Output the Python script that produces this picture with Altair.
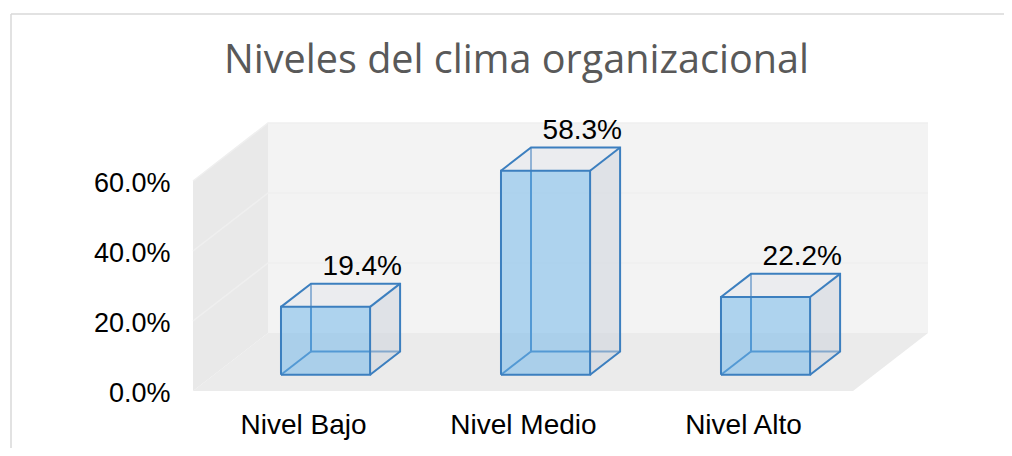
import altair as alt
import pandas as pd

titulo = "Niveles del clima organizacional"
categorias = ["Nivel Bajo", "Nivel Medio", "Nivel Alto"]
valores = [0.194, 0.583, 0.222]
ticks_y = [0.0, 0.2, 0.4, 0.6]
ticks_x = [0.5, 1.5, 2.5]

# oblique projection, in data units, of a unit of chart depth
DX = 75 / 220
DY = 58 / 350
TOP = 0.6
H = 0.2025
SHIFT = 0.007
D0, D1 = 0.28, 0.68
W, HH = 735, 268

names = "[" + ",".join(f"'{c}'" for c in categorias) + "]"
X = alt.X("x:Q", scale=alt.Scale(domain=[0, 3 + DX], nice=False, zero=False),
          axis=alt.Axis(values=ticks_x, title=None, domain=False, ticks=False, grid=False, labelFont="Liberation Sans",
                        labelFontSize=28, labelColor="#000000", labelPadding=20, labelFlush=False, labelOverlap=False,
                        labelExpr=f"{names}[floor(datum.value)]"))
Y = alt.Y("y:Q", scale=alt.Scale(domain=[0, TOP + DY], nice=False, zero=False),
          axis=alt.Axis(values=ticks_y, format=".1%", title=None, domain=False, ticks=False, grid=False, labelOffset=2,
                        labelFont="Liberation Sans", labelFontSize=27, labelColor="#000000", labelPadding=23))
N = len(categorias)


def vface(rows, color, op=1.0):
    return alt.Chart(pd.DataFrame(rows)).mark_area(color=color, opacity=op, strokeWidth=0, clip=False).encode(
        x=X, y=Y, y2="y2:Q", detail="id:N")


def hface(rows, color, op=1.0):
    return alt.Chart(pd.DataFrame(rows)).mark_area(color=color, opacity=op, orient="horizontal", strokeWidth=0).encode(
        y=Y, x=X, x2="x2:Q", detail="id:N")


def lines(rows, color, w):
    return alt.Chart(pd.DataFrame(rows)).mark_line(color=color, strokeWidth=w, strokeJoin="miter").encode(
        x=X, y=Y, detail="id:N", order="o:Q")


def path(rows, key, pts):
    for o, (cx, v, d) in enumerate(pts):
        rows.append({"id": key, "o": o, "x": cx + d * DX, "y": v + d * DY})


back = vface([{"id": 0, "x": DX, "y": DY, "y2": TOP + DY}, {"id": 0, "x": 3 + DX, "y": DY, "y2": TOP + DY}], "#f3f3f3")
left = vface([{"id": 0, "x": d * DX, "y": d * DY, "y2": TOP + d * DY} for d in (0, 1)], "#e9e9e9")
floor = hface([{"id": 0, "x": d * DX, "x2": 3 + d * DX, "y": d * DY} for d in (0, 1)], "#ebebeb")

grid_rows = []
for t in ticks_y[1:]:
    path(grid_rows, t, [(0, t, 0), (0, t, 1), (3, t, 1)])
grid = lines(grid_rows, "#efefef", 1.5)

back_edges, front_edges, side, top, front = [], [], [], [], []
for i, v in enumerate(valores):
    xl, xr = i + 0.5 + SHIFT - H, i + 0.5 + SHIFT + H
    path(back_edges, f"{i}a", [(xl, 0, D1), (xl, v, D1)])
    path(back_edges, f"{i}b", [(xl, 0, D1), (xr, 0, D1)])
    path(back_edges, f"{i}c", [(xl, 0, D0), (xl, 0, D1)])
    path(front_edges, f"{i}a", [(xl, v, D0), (xl, v, D1), (xr, v, D1), (xr, 0, D1), (xr, 0, D0)])
    path(front_edges, f"{i}b", [(xl, 0, D0), (xr, 0, D0), (xr, v, D0), (xl, v, D0), (xl, 0, D0)])
    path(front_edges, f"{i}c", [(xr, v, D0), (xr, v, D1)])
    for d in (D0, D1):
        side.append({"id": i, "x": xr + d * DX, "y": d * DY, "y2": v + d * DY})
        top.append({"id": i, "x": xl + d * DX, "x2": xr + d * DX, "y": v + d * DY})
    front.append({"id": i, "x": xl + D0 * DX, "y": D0 * DY, "y2": v + D0 * DY})
    front.append({"id": i, "x": xr + D0 * DX, "y": D0 * DY, "y2": v + D0 * DY})

EDGE = "#3c7fbf"
label_df = pd.DataFrame({
    "x": [i + 0.5 + SHIFT + 0.77 * DX for i in range(N)],
    "y": [v + D1 * DY for v in valores],
    "t": [f"{v * 100:.1f}%" for v in valores],
})
labels = alt.Chart(label_df).mark_text(font="Liberation Sans", fontSize=28, color="#000000", baseline="alphabetic", dy=-9).encode(
    x=X, y=Y, text="t:N")

frame_h = alt.Chart(pd.DataFrame({"a": [0]})).mark_rule(color="#d9d9d9", strokeWidth=1.5).encode(
    x=alt.value(-182), x2=alt.value(811), y=alt.value(-109))
frame_v = alt.Chart(pd.DataFrame({"a": [0]})).mark_rule(color="#d9d9d9", strokeWidth=1.5).encode(
    x=alt.value(-182), y=alt.value(-109), y2=alt.value(325))

chart = alt.layer(
    frame_h, frame_v, back, left, floor, grid,
    lines(back_edges, EDGE, 2),
    vface(side, "#cbd1db", 0.5),
    hface(top, "#e3e5eb", 0.5),
    vface(front, "#69b3e9", 0.5),
    lines(front_edges, EDGE, 2),
    labels,
).properties(
    width=W, height=HH,
    title=alt.TitleParams(titulo, anchor="start", frame="group", dx=31, dy=68, offset=0, font="Open Sans", fontSize=39.6,
                          fontWeight="normal", color="#595959"),
    padding={"left": 185, "top": 115, "right": 76, "bottom": 57},
    autosize=alt.AutoSizeParams(type="none"),
).configure_view(stroke=None)

chart.save("out.html", embed_options={"renderer": "svg", "actions": False})
